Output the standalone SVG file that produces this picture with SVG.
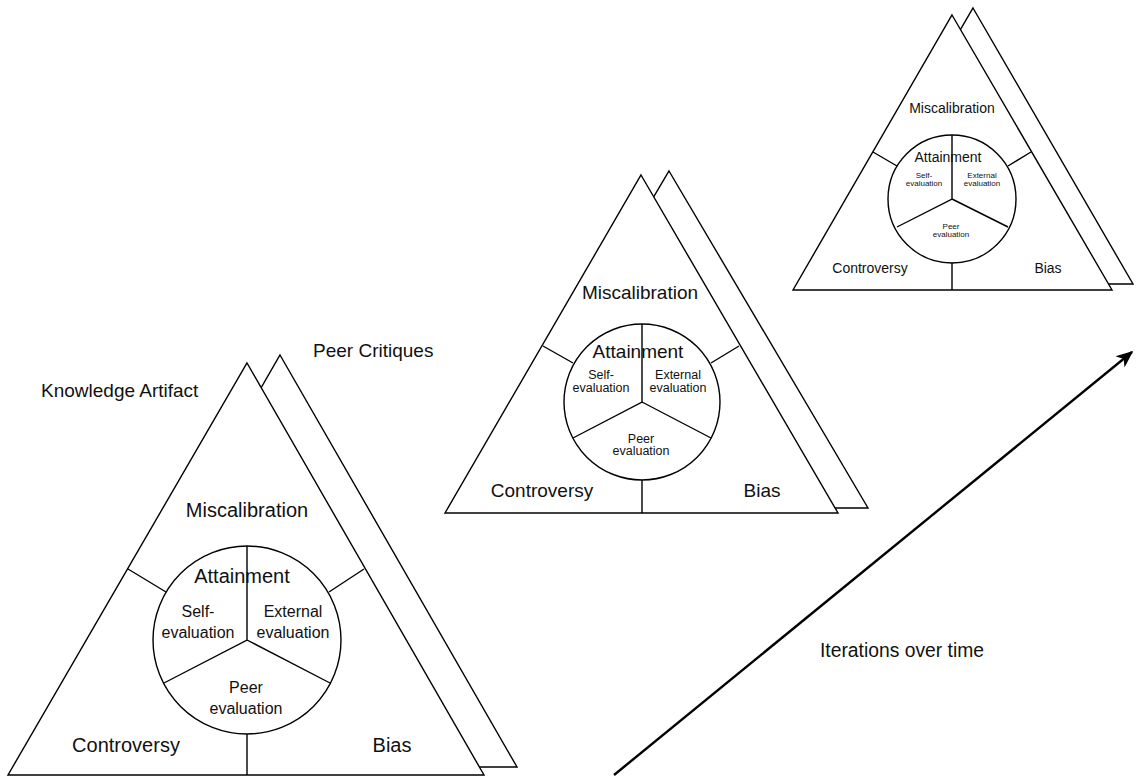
<svg xmlns="http://www.w3.org/2000/svg" width="1139" height="777" viewBox="0 0 1139 777">
  <style>
    .shape { fill: #ffffff; stroke: #000000; stroke-width: 1.4; stroke-linejoin: miter; }
    .rule { fill: none; stroke: #000000; stroke-width: 1.4; }
    text { font-family: "Liberation Sans", Arial, sans-serif; fill: #111111; text-anchor: middle; }
    .big { font-size: 20px; }
    .mid { font-size: 19px; }
    .lbl { font-size: 19px; text-anchor: start; }
    .sub1 { font-size: 16px; }
    .sub2 { font-size: 12.5px; }
    .sub3 { font-size: 8px; }
    .sm { font-size: 14px; }
  </style>
  <defs>
    <marker id="arrowhead" viewBox="0 0 16 14" refX="15" refY="7" markerWidth="16" markerHeight="14" orient="auto" markerUnits="userSpaceOnUse">
      <path d="M1,1 L15,7 L1,13 L5,7 Z" fill="#000000" stroke="#000000" stroke-width="1.2" stroke-linejoin="miter"/>
    </marker>
  </defs>
  <rect width="1139" height="777" fill="#ffffff"/>

  <!-- first iteration (large) -->
  <g id="iteration-1">
    <polygon class="shape" points="280,355 517,767 43,767"/>
    <polygon class="shape" points="247,363 484,775 8,775"/>
    <circle class="shape" cx="247" cy="640" r="94"/>
    <path class="rule" d="M247,546 V640 L164,683 M247,640 L330,683 M166,592 L128,569 M329,592 L364,569 M247,734 V775"/>
    <text class="big" x="247" y="517">Miscalibration</text>
    <text class="big" x="242" y="583">Attainment</text>
    <text class="sub1" x="198" y="617">Self-</text>
    <text class="sub1" x="198" y="638">evaluation</text>
    <text class="sub1" x="293" y="617">External</text>
    <text class="sub1" x="293" y="638">evaluation</text>
    <text class="sub1" x="246" y="693">Peer</text>
    <text class="sub1" x="246" y="714">evaluation</text>
    <text class="big" x="126" y="752">Controversy</text>
    <text class="big" x="392" y="752">Bias</text>
  </g>
  <text class="lbl" x="41" y="397">Knowledge Artifact</text>
  <text class="lbl" x="313" y="357">Peer Critiques</text>

  <!-- second iteration (medium) -->
  <g id="iteration-2">
    <polygon class="shape" points="669,171 868,508 470,508"/>
    <polygon class="shape" points="641,175 838,513 445,513"/>
    <circle class="shape" cx="642" cy="402" r="78"/>
    <path class="rule" d="M642,324 V402 L573,438 M642,402 L711,438 M573,363 L543,346 M711,363 L739,346 M642,480 V513"/>
    <text class="mid" x="640" y="299">Miscalibration</text>
    <text class="mid" x="638" y="358">Attainment</text>
    <text class="sub2" x="601" y="379">Self-</text>
    <text class="sub2" x="601" y="392">evaluation</text>
    <text class="sub2" x="678" y="379">External</text>
    <text class="sub2" x="678" y="392">evaluation</text>
    <text class="sub2" x="641" y="443">Peer</text>
    <text class="sub2" x="641" y="455">evaluation</text>
    <text class="mid" x="542" y="497">Controversy</text>
    <text class="mid" x="762" y="497">Bias</text>
  </g>

  <!-- third iteration (small) -->
  <g id="iteration-3">
    <polygon class="shape" points="973,8 1133,284 813,284"/>
    <polygon class="shape" points="952,15 1112,290 793,290"/>
    <circle class="shape" cx="952" cy="199" r="64"/>
    <path class="rule" d="M952,135 V199 L897,227 M952,199 L1008,227 M897,166 L873,152 M1008,166 L1031,152 M952,263 V290"/>
    <text class="sm" x="952" y="113">Miscalibration</text>
    <text class="sm" x="948" y="162">Attainment</text>
    <text class="sub3" x="924" y="178">Self-</text>
    <text class="sub3" x="924" y="186">evaluation</text>
    <text class="sub3" x="982" y="178">External</text>
    <text class="sub3" x="982" y="186">evaluation</text>
    <text class="sub3" x="951" y="229">Peer</text>
    <text class="sub3" x="951" y="237">evaluation</text>
    <text class="sm" x="870" y="273">Controversy</text>
    <text class="sm" x="1048" y="273">Bias</text>
  </g>

  <!-- time axis -->
  <g id="connectors">
    <line x1="614" y1="775" x2="1132" y2="352" stroke="#000000" stroke-width="2.4" marker-end="url(#arrowhead)"/>
  </g>
  <text class="lbl" x="820" y="657" style="font-size:19.3px">Iterations over time</text>
</svg>
